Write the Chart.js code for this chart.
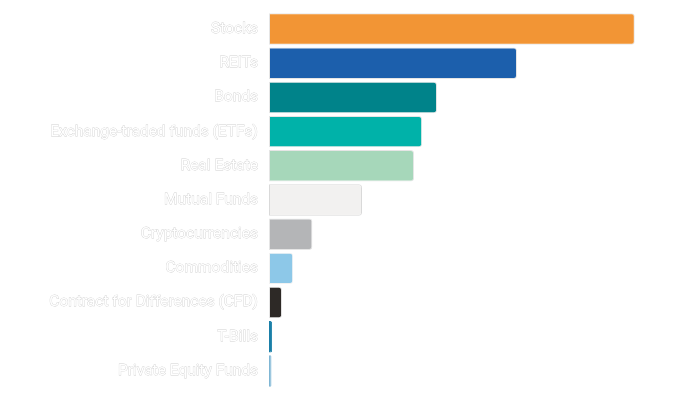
<!DOCTYPE html>
<html>
<head>
<meta charset="utf-8">
<script src="https://cdn.jsdelivr.net/npm/chart.js@4"></script>
<style>
  html, body { margin: 0; padding: 0; background: #fff; }
  #wrap { width: 700px; height: 394px; }
</style>
</head>
<body>
<div id="wrap"><canvas id="myChart"></canvas></div>
<script>
// categories and values (share of respondents)
const assetClasses = ['Stocks', 'REITs', 'Bonds', 'Exchange-traded funds (ETFs)', 'Real Estate',
    'Mutual Funds', 'Cryptocurrencies', 'Commodities', 'Contract for Differences (CFD)', 'T-Bills',
    'Private Equity Funds'];
const shareValues = [59, 40, 27.1, 24.7, 23.4, 15, 7, 3.9, 2.1, 0.5, 0.4];
const barColors = ['#F29535', '#1C5FAC', '#00838A', '#00B2A9', '#A6D7BA', '#F2F1F0',
    '#B4B5B7', '#8DC8E8', '#2D2926', '#1A7FA8', '#7FB6D4'];
const barBorders = ['rgba(0,0,0,0.1)', 'rgba(0,0,0,0.1)', 'rgba(0,0,0,0.1)', 'rgba(0,0,0,0.1)',
    'rgba(0,0,0,0.1)', 'rgba(0,0,0,0.15)', 'rgba(0,0,0,0.1)', 'rgba(0,0,0,0.05)', 'rgba(0,0,0,0.1)',
    '#1A7FA8', '#7FB6D4'];

const ctx = document.getElementById('myChart');
const chart = new Chart(ctx, {
    type: 'bar',
    data: {
        labels: assetClasses,
        datasets: [{
            data: shareValues,
            backgroundColor: barColors,
            borderColor: barBorders,
            borderWidth: 1,
            borderSkipped: false,
            borderRadius: { topRight: 3, bottomRight: 3 },
            categoryPercentage: 1,
            barPercentage: 0.92
        }]
    },
    options: {
        indexAxis: 'y',
        responsive: true,
        maintainAspectRatio: false,
        animation: false,
        layout: { padding: { top: 12, bottom: 6, right: 59, left: 0 } },
        plugins: {
            legend: { display: false },
            tooltip: { enabled: false }
        },
        scales: {
            x: {
                display: false,
                min: 0,
                max: 60
            },
            y: {
                // keep the label column at a fixed width and drop the label overhang
                afterFit: (scale) => {
                    scale.width = 269;
                    scale.paddingTop = 0;
                    scale.paddingBottom = 0;
                },
                grid: { display: false, drawTicks: false },
                border: { display: false },
                ticks: {
                    color: '#ffffff',
                    textStrokeColor: 'rgba(0,0,0,0.2)',
                    textStrokeWidth: 0.8,
                    padding: 11,
                    font: { family: 'Roboto', size: 15.5 }
                }
            }
        }
    }
});
</script>
</body>
</html>
